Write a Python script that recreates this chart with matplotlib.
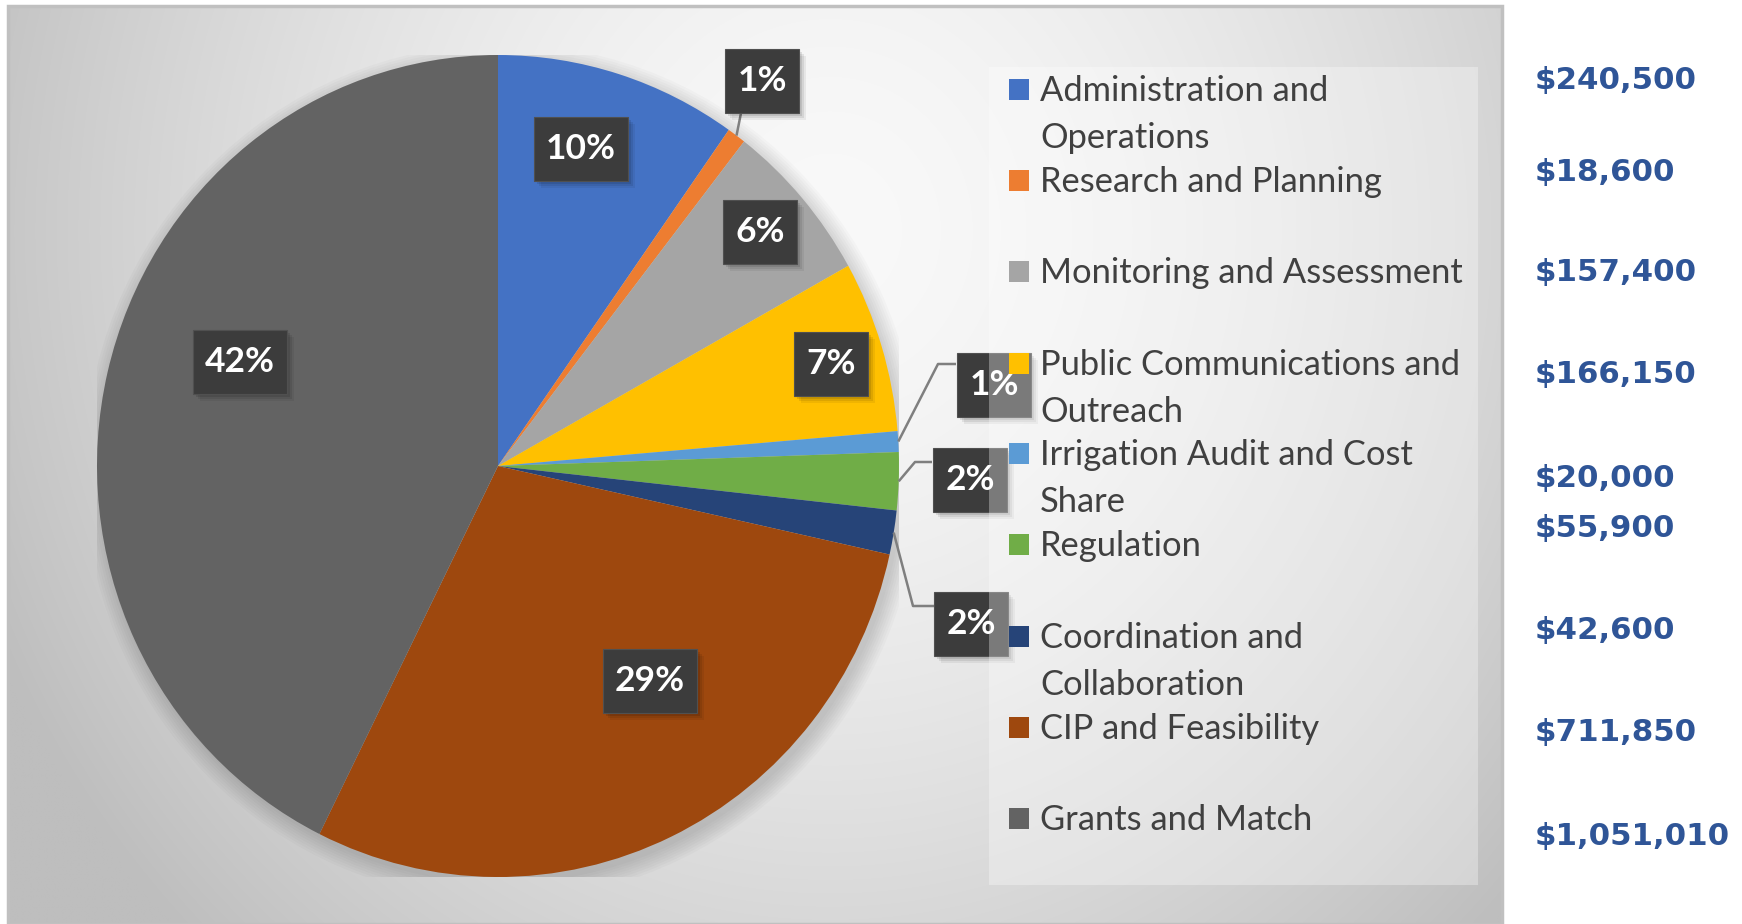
import numpy as np
import matplotlib
matplotlib.use("Agg")
import matplotlib.pyplot as plt
from matplotlib.patches import Rectangle, Ellipse

# ---------------- data ----------------
categories = [
    "Administration and\nOperations",
    "Research and Planning",
    "Monitoring and Assessment",
    "Public Communications and\nOutreach",
    "Irrigation Audit and Cost\nShare",
    "Regulation",
    "Coordination and\nCollaboration",
    "CIP and Feasibility",
    "Grants and Match",
]
amounts = [240500, 18600, 157400, 166150, 20000, 55900, 42600, 711850, 1051010]
amount_labels = ["$240,500", "$18,600", "$157,400", "$166,150", "$20,000",
                 "$55,900", "$42,600", "$711,850", "$1,051,010"]
pct_labels = ["10%", "1%", "6%", "7%", "1%", "2%", "2%", "29%", "42%"]
colors = ["#4472C4", "#ED7D31", "#A5A5A5", "#FFC000", "#5B9BD5",
          "#70AD47", "#264478", "#9E480E", "#636363"]

# ---------------- layout (pixel coordinates, origin top-left) ----------------
W, H = 1742, 924
chart_box = (8, 6, 1502, 924)           # chart area
pie_box = (97, 55, 899, 877)            # pie bounding box
legend_box = (989, 67, 1478, 885)
legend_y = [89, 180, 271, 363, 453, 544, 636, 727, 818]
legend_line_gap = 47
amount_y = [81, 172, 272, 374, 478, 529, 631, 733, 836]
label_pos = [(581, 149), (762, 81), (760, 232), (831, 364), (994, 385),
             (970, 480), (971, 624), (650, 681), (240, 362)]
# leader lines: index -> list of elbow points after the slice edge point
leaders = {1: [(741, 113)],
           4: [(938, 364), (956, 364)],
           5: [(915, 462), (932, 462)],
           6: [(913, 606), (934, 606)]}

fig = plt.figure(figsize=(W / 100, H / 100), dpi=100)
fig.patch.set_facecolor("white")

# background axes in pixel coords
bg = fig.add_axes([0, 0, 1, 1], zorder=0)
bg.set_xlim(0, W)
bg.set_ylim(H, 0)
bg.axis("off")

x0, y0, x1, y1 = chart_box
xx, yy = np.meshgrid(np.linspace(x0, x1, 400), np.linspace(y0, y1, 250))
r = np.sqrt(((xx - 830) / 720.0) ** 2 + ((yy - 230) / 780.0) ** 2)
shade = np.clip(249 - 40 * r ** 1.6, 190, 250) / 255.0
bg.imshow(np.dstack([shade, shade, shade]), extent=(x0, x1, y1, y0),
          aspect="auto", interpolation="bilinear", zorder=0)
bg.add_patch(Rectangle((x0, y0), x1 - x0, y1 - y0, fill=False,
                       edgecolor="#c0c0c0", linewidth=2.5, zorder=1))

# pie axes
px0, py0, px1, py1 = pie_box
ax = fig.add_axes([px0 / W, (H - py1) / H, (px1 - px0) / W, (py1 - py0) / H], zorder=1)
ax.patch.set_alpha(0)
# soft shadow behind pie
for k in range(8):
    ax.add_patch(Ellipse((0.01, -0.015), 2 + 0.012 * k, 2 + 0.012 * k,
                         facecolor="black", alpha=0.018, linewidth=0, zorder=0))
wedges, _ = ax.pie(amounts, colors=colors, startangle=90, counterclock=False,
                   wedgeprops=dict(linewidth=0))
for w in wedges:
    w.set_zorder(2)
ax.set_xlim(-1, 1)
ax.set_ylim(-1, 1)
ax.set_aspect("auto")
ax.axis("off")

# overlay axes in pixel coords
top = fig.add_axes([0, 0, 1, 1], zorder=2)
top.set_xlim(0, W)
top.set_ylim(H, 0)
top.axis("off")
top.patch.set_alpha(0)

fig.canvas.draw()
renderer = fig.canvas.get_renderer()


def edge_point(w):
    mid = np.deg2rad((w.theta1 + w.theta2) / 2)
    dx, dy = ax.transData.transform((np.cos(mid), np.sin(mid)))
    return dx, H - dy


# leader lines
for i, pts in leaders.items():
    ex, ey = edge_point(wedges[i])
    xs = [ex] + [p[0] for p in pts]
    ys = [ey] + [p[1] for p in pts]
    top.plot(xs, ys, color="#7f7f7f", linewidth=1.8, zorder=3,
             solid_capstyle="butt")

# data labels
for lab, (cx, cy) in zip(pct_labels, label_pos):
    t = top.text(cx, cy, lab, ha="center", va="center", color="white",
                 fontsize=25.5, fontweight="bold", family="Lato", zorder=6)
    bb = t.get_window_extent(renderer)
    bw = bb.width + 24
    bh = 64
    for k, a in enumerate([0.10, 0.08, 0.06]):
        off = 3 + 2 * k
        top.add_patch(Rectangle((cx - bw / 2 + off, cy - bh / 2 + off), bw, bh,
                                facecolor="black", alpha=a, linewidth=0, zorder=4))
    top.add_patch(Rectangle((cx - bw / 2, cy - bh / 2), bw, bh,
                            facecolor="#3c3c3c", edgecolor="#505050",
                            linewidth=0.8, zorder=5))

# legend
lx0, ly0, lx1, ly1 = legend_box
top.add_patch(Rectangle((lx0, ly0), lx1 - lx0, ly1 - ly0, facecolor="white",
                        alpha=0.32, linewidth=0, zorder=7))
for cat, col, y in zip(categories, colors, legend_y):
    top.add_patch(Rectangle((1009, y - 10), 20, 21, facecolor=col,
                            linewidth=0, zorder=8))
    for j, line in enumerate(cat.split("\n")):
        top.text(1040, y + 12 + j * legend_line_gap, line, ha="left",
                 va="baseline", color="#404040", fontsize=24.8,
                 family="Lato", zorder=8)

# dollar amounts
for txt, y in zip(amount_labels, amount_y):
    top.text(1535, y, txt, ha="left", va="center", color="#2F5597",
             fontsize=22.2, fontweight="bold", family="DejaVu Sans", zorder=8)

fig.savefig("out.png", dpi=100, facecolor="white")
